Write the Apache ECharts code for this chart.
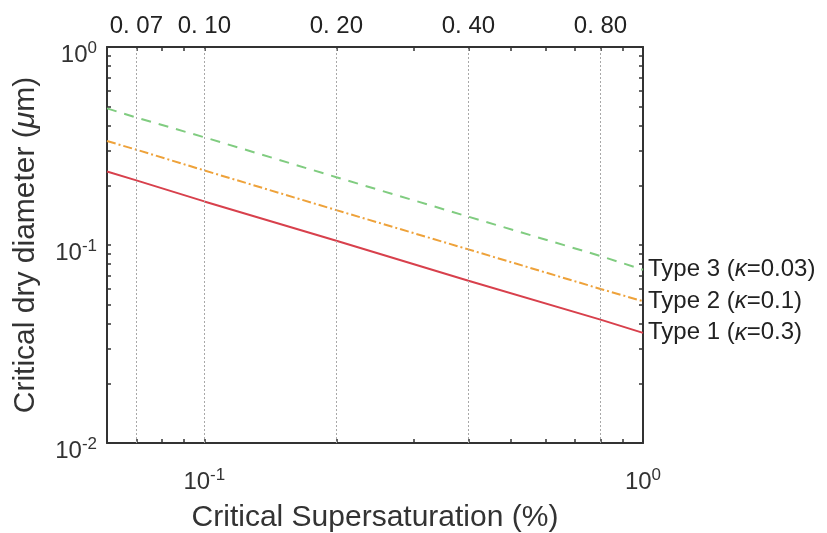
<!DOCTYPE html>
<html>
<head>
<meta charset="utf-8">
<script src="https://cdn.jsdelivr.net/npm/echarts@6/dist/echarts.min.js"></script>
<style>
  html, body { margin: 0; padding: 0; background: #fff; }
  #chart { width: 827px; height: 533px; }
</style>
</head>
<body>
<div id="chart"></div>
<script>
// Critical supersaturation (%) sampled along the x axis
const satValues = [0.06, 0.07, 0.1, 0.2, 0.4, 0.8, 1.0];
// Critical dry diameter (µm) for each aerosol type
const type1Diam = [0.235, 0.212, 0.166, 0.105, 0.066, 0.042, 0.036];
const type2Diam = [0.335, 0.303, 0.238, 0.150, 0.095, 0.060, 0.052];
const type3Diam = [0.49, 0.44, 0.35, 0.22, 0.139, 0.088, 0.075];

const seriesNames = ['Type 1', 'Type 2', 'Type 3'];
const kappaLabels = ['0.3', '0.1', '0.03'];

// Reference supersaturations marked along the top
const refSatValues = [0.07, 0.1, 0.2, 0.4, 0.8];
const refSatLabels = ['0. 07', '0. 10', '0. 20', '0. 40', '0. 80'];

// Tick positions on the log axes
const xTickValues = [0.07, 0.08, 0.09, 0.1, 0.2, 0.3, 0.4, 0.5, 0.6, 0.7, 0.8, 0.9, 1];
const xLabelValues = [0.1, 1];
const yTickValues = [0.01, 0.02, 0.03, 0.04, 0.05, 0.06, 0.07, 0.08, 0.09, 0.1,
  0.2, 0.3, 0.4, 0.5, 0.6, 0.7, 0.8, 0.9, 1];
const yLabelValues = [0.01, 0.1, 1];

const FONT = '"Liberation Sans", Arial, Helvetica, sans-serif';
const INK = '#333';

function powLabel(v) {
  const e = Math.round(Math.log10(v));
  return '{b|10}{e|' + e + '}';
}
const powRich = {
  b: { fontSize: 24, fontFamily: FONT, color: INK },
  e: { fontSize: 17, fontFamily: FONT, color: INK, padding: [0, 0, 14, 0] }
};

function pairs(ys) {
  return satValues.map((x, i) => [x, ys[i]]);
}

const lineColors = ['#d8404c', '#eea23a', '#80cc80'];
const lineTypes = ['solid', [9, 3, 2, 3], [10, 8]];
const diamSets = [type1Diam, type2Diam, type3Diam];

const series = diamSets.map((ys, i) => ({
  name: seriesNames[i],
  type: 'line',
  data: pairs(ys),
  showSymbol: false,
  symbol: 'none',
  lineStyle: { color: lineColors[i], width: 2, type: lineTypes[i] },
  z: 3 + i,
  endLabel: {
    show: true,
    distance: 5,
    formatter: '{a|' + seriesNames[i] + ' (}{k|κ}{a|=' + kappaLabels[i] + ')}',
    rich: {
      a: { fontSize: 24, fontFamily: FONT, color: '#222' },
      k: { fontSize: 24, fontFamily: FONT, color: '#222', fontStyle: 'italic' }
    }
  }
}));

// Dotted vertical guides at the reference supersaturations
series[0].markLine = {
  silent: true,
  symbol: 'none',
  label: { show: false },
  lineStyle: { color: '#a8a8a8', type: [2, 2], width: 1 },
  data: refSatValues.map(v => ({ xAxis: v }))
};

const tickStyle = { show: true, inside: true, length: 4, lineStyle: { color: INK, width: 1.5 } };
const axisLineStyle = { show: true, lineStyle: { color: INK, width: 2 } };

const option = {
  animation: false,
  backgroundColor: '#fff',
  grid: { left: 107, right: 184, top: 47, bottom: 90, containLabel: false, outerBoundsMode: 'none' },
  xAxis: [
    {
      type: 'log', min: 0.06, max: 1, position: 'bottom',
      name: 'Critical Supersaturation (%)',
      nameLocation: 'middle', nameGap: 60,
      nameTextStyle: { fontSize: 30, fontFamily: FONT, color: INK },
      axisLine: axisLineStyle,
      axisTick: Object.assign({ customValues: xTickValues }, tickStyle),
      axisLabel: {
        customValues: xLabelValues, margin: 24,
        formatter: powLabel, rich: powRich
      },
      splitLine: { show: false }, minorTick: { show: false }
    },
    {
      type: 'log', min: 0.06, max: 1, position: 'top',
      axisLine: axisLineStyle,
      axisTick: Object.assign({ customValues: xTickValues }, tickStyle),
      axisLabel: {
        customValues: refSatValues, margin: 9,
        fontSize: 24, fontFamily: FONT, color: '#222',
        formatter: function (v) {
          for (let i = 0; i < refSatValues.length; i++) {
            if (Math.abs(refSatValues[i] - v) < 1e-6) return refSatLabels[i];
          }
          return '';
        }
      },
      splitLine: { show: false }
    }
  ],
  yAxis: [
    {
      type: 'log', min: 0.01, max: 1, position: 'left',
      name: '{a|Critical dry diameter (}{m|μ}{a|m)}',
      nameLocation: 'middle', nameGap: 66, nameRotate: 90,
      nameTextStyle: {
        rich: {
          a: { fontSize: 30, fontFamily: FONT, color: INK },
          m: { fontSize: 30, fontFamily: FONT, color: INK, fontStyle: 'italic' }
        }
      },
      axisLine: axisLineStyle,
      axisTick: Object.assign({ customValues: yTickValues }, tickStyle),
      axisLabel: {
        customValues: yLabelValues, margin: 10, padding: [16, 0, 0, 0],
        formatter: powLabel, rich: powRich
      },
      splitLine: { show: false }
    },
    {
      type: 'log', min: 0.01, max: 1, position: 'right',
      axisLine: axisLineStyle,
      axisTick: Object.assign({ customValues: yTickValues }, tickStyle),
      axisLabel: { show: false },
      splitLine: { show: false }
    }
  ],
  series: series.map(s => Object.assign(s, { xAxisIndex: 0, yAxisIndex: 0 }))
};

const chart = echarts.init(document.getElementById('chart'), null, { renderer: 'canvas' });
chart.setOption(option);
</script>
</body>
</html>
